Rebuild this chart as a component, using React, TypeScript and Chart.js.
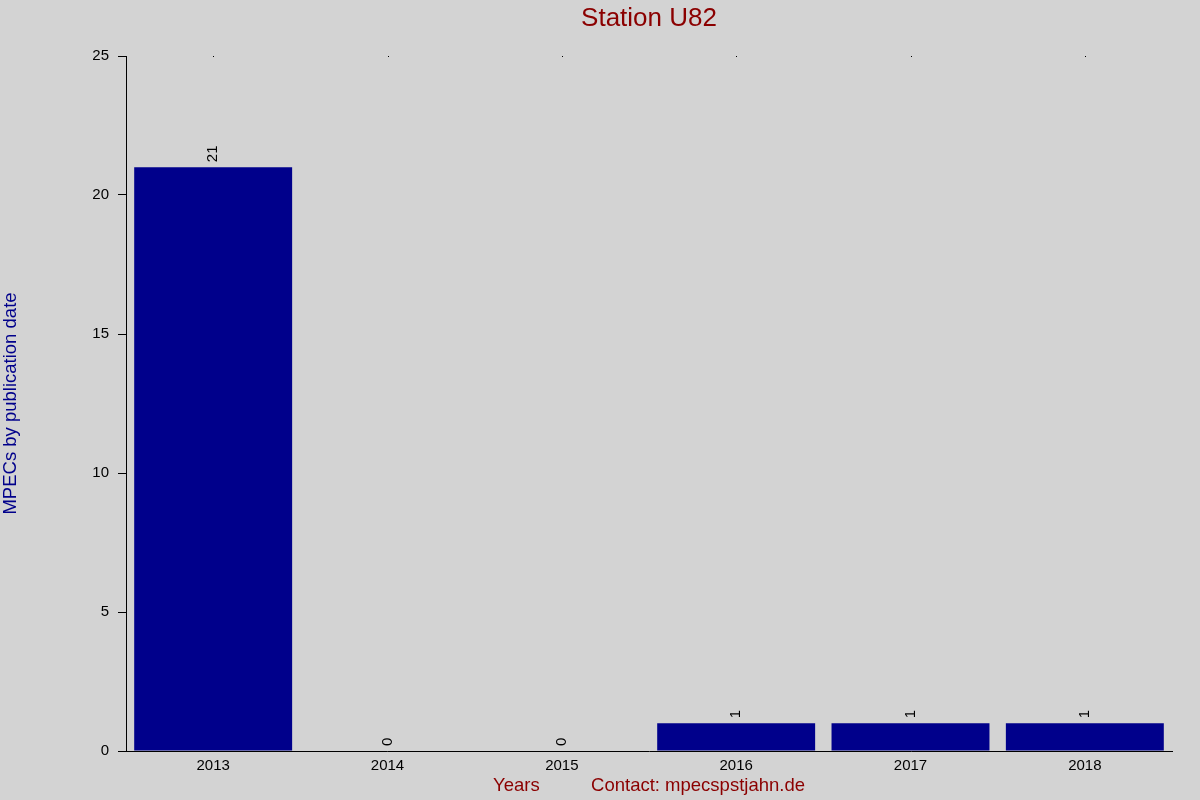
import React, { useEffect, useRef } from "react";
import { Chart, registerables } from "chart.js";

Chart.register(...registerables);

const categories = ["2013", "2014", "2015", "2016", "2017", "2018"];
const mpecCounts = [21, 0, 0, 1, 1, 1];
const yTicks = [0, 5, 10, 15, 20, 25];

const FONT = "'Liberation Sans', Arial, sans-serif";

const labelPlugin = {
  id: "barValueLabels",
  afterDatasetsDraw(chart: any) {
    const { ctx, chartArea } = chart;
    const meta = chart.getDatasetMeta(0);
    ctx.save();
    ctx.fillStyle = "#000000";
    ctx.font = `15px ${FONT}`;
    meta.data.forEach((bar: any, i: number) => {
      const v = chart.data.datasets[0].data[i];
      ctx.save();
      ctx.translate(bar.x, bar.y - 5);
      ctx.rotate(-Math.PI / 2);
      ctx.textAlign = "left";
      ctx.textBaseline = "middle";
      ctx.fillText(String(v), 0, 0);
      ctx.restore();
    });
    // small top marks at category centres
    const xs = chart.scales.x;
    categories.forEach((_, i) => {
      const px = xs.getPixelForValue(i);
      ctx.fillRect(Math.round(px), Math.round(chartArea.top), 1, 1);
    });
    ctx.restore();
  },
};

export default function App() {
  const ref = useRef<HTMLCanvasElement | null>(null);
  useEffect(() => {
    if (!ref.current) return;
    const chart = new Chart(ref.current, {
      type: "bar",
      data: {
        labels: categories,
        datasets: [
          {
            data: mpecCounts,
            backgroundColor: "#00008B",
            borderWidth: 0,
            categoryPercentage: 1,
            barPercentage: 0.906,
          },
        ],
      },
      plugins: [
        {
          id: "bg",
          beforeDraw(c: any) {
            const { ctx, width, height } = c;
            ctx.save();
            ctx.fillStyle = "#D3D3D3";
            ctx.fillRect(0, 0, width, height);
            ctx.restore();
          },
        },
        labelPlugin,
      ],
      options: {
        responsive: false,
        animation: false,
        devicePixelRatio: 1,
        layout: { padding: { left: 0, right: 28, top: 0, bottom: 0 } },
        plugins: {
          legend: { display: false },
          tooltip: { enabled: false },
          title: {
            display: true,
            fullSize: false,
            text: "Station U82",
            color: "#8B0000",
            font: { family: FONT, size: 26, weight: "normal" },
            padding: { top: 3, bottom: 21.8 },
          },
        },
        scales: {
          x: {
            grid: { display: false, drawTicks: false },
            border: { display: true, color: "#000000", width: 1 },
            ticks: {
              color: "#000000",
              font: { family: FONT, size: 15 },
              padding: 6,
              maxRotation: 0,
            },
            title: {
              display: true,
              text: "Years          Contact: mpecspstjahn.de",
              color: "#8B0000",
              font: { family: FONT, size: 18.5 },
              padding: { top: 0, bottom: 3 },
            },
            afterFit(scale: any) {
              scale.height = 49;
            },
          },
          y: {
            min: 0,
            max: 25,
            afterBuildTicks(scale: any) {
              scale.ticks = yTicks.map((v) => ({ value: v }));
            },
            grid: {
              display: true,
              drawOnChartArea: false,
              drawTicks: true,
              tickLength: 8,
              color: "#000000",
            },
            border: { display: true, color: "#000000", width: 1 },
            ticks: {
              color: "#000000",
              font: { family: FONT, size: 15 },
              padding: 9,
            },
            title: {
              display: true,
              text: "MPECs by publication date",
              color: "#00008B",
              font: { family: FONT, size: 18.5 },
              padding: { top: 0, bottom: 0 },
            },
            afterFit(scale: any) {
              scale.width = 126;
            },
          },
        },
      } as any,
    });
    return () => chart.destroy();
  }, []);
  return (
    <div style={{ position: "fixed", left: 0, top: 0, width: 1200, height: 800 }}>
      <canvas ref={ref} width={1200} height={800} />
    </div>
  );
}
